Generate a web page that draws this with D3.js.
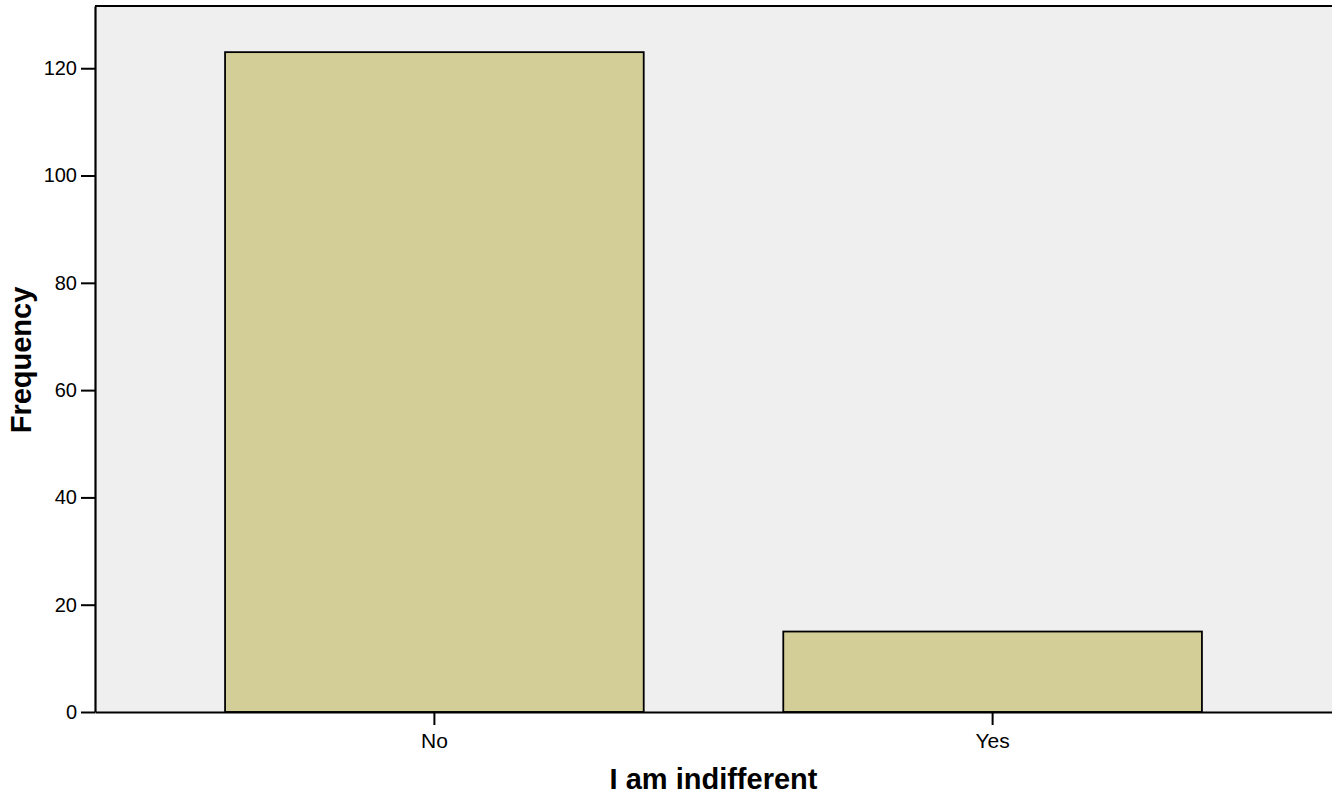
<!DOCTYPE html>
<html>
<head>
<meta charset="utf-8">
<script src="https://cdn.jsdelivr.net/npm/d3@7"></script>
<style>
  html, body { margin: 0; padding: 0; background: #fff; }
  svg { display: block; font-family: Arial, "Liberation Sans", sans-serif; }
</style>
</head>
<body>
<svg id="chart" width="1332" height="795"></svg>
<script>
const categories = ["No", "Yes"];
const frequencies = [123, 15];
const yTicks = [0, 20, 40, 60, 80, 100, 120];
const xTitle = "I am indifferent";
const yTitle = "Frequency";

const plotL = 95, plotR = 1332, plotT = 6, plotB = 712;

const svg = d3.select("#chart");

const x = d3.scaleBand().domain(categories).range([plotL, plotR])
  .paddingInner(0.25).paddingOuter(0.233);
const y = d3.scaleLinear().domain([0, 131.6]).range([plotB, plotT]);

// plot background
svg.append("rect")
  .attr("x", plotL).attr("y", plotT)
  .attr("width", plotR - plotL).attr("height", plotB - plotT)
  .attr("fill", "#efefef");

// bars
svg.selectAll("rect.bar").data(categories).enter().append("rect")
  .attr("class", "bar")
  .attr("x", d => x(d))
  .attr("y", (d, i) => y(frequencies[i]))
  .attr("width", x.bandwidth())
  .attr("height", (d, i) => y(0) - y(frequencies[i]))
  .attr("fill", "#d3ce97")
  .attr("stroke", "#000")
  .attr("stroke-width", 1.8);

// top border
svg.append("line")
  .attr("x1", plotL).attr("x2", plotR)
  .attr("y1", plotT).attr("y2", plotT)
  .attr("stroke", "#000").attr("stroke-width", 2);

// y axis
const yAxis = d3.axisLeft(y).tickValues(yTicks).tickSize(14).tickSizeOuter(0)
  .tickPadding(4).tickFormat(d3.format("d"));
const gy = svg.append("g").attr("transform", `translate(${plotL},0)`).call(yAxis);
gy.select(".domain").attr("stroke", "#000").attr("stroke-width", 2.2);
gy.selectAll(".tick line").attr("stroke", "#000").attr("stroke-width", 2);
gy.selectAll(".tick text").attr("font-size", 20).attr("fill", "#000")
  .attr("font-family", "Arial, 'Liberation Sans', sans-serif");

// x axis
const xAxis = d3.axisBottom(x).tickSize(13).tickSizeOuter(0).tickPadding(8);
const gx = svg.append("g").attr("transform", `translate(0,${plotB})`).call(xAxis);
gx.select(".domain").attr("stroke", "#000").attr("stroke-width", 2.2);
gx.selectAll(".tick line").attr("stroke", "#000").attr("stroke-width", 2);
gx.selectAll(".tick text").attr("font-size", 21).attr("fill", "#000")
  .attr("font-family", "Arial, 'Liberation Sans', sans-serif");

// axis titles
svg.append("text")
  .attr("x", (plotL + plotR) / 2).attr("y", 789)
  .attr("text-anchor", "middle")
  .attr("font-size", 29).attr("font-weight", "bold")
  .text(xTitle);

svg.append("text")
  .attr("transform", `translate(31,${(plotT + plotB) / 2 + 1}) rotate(-90)`)
  .attr("text-anchor", "middle")
  .attr("font-size", 29).attr("font-weight", "bold")
  .text(yTitle);
</script>
</body>
</html>
